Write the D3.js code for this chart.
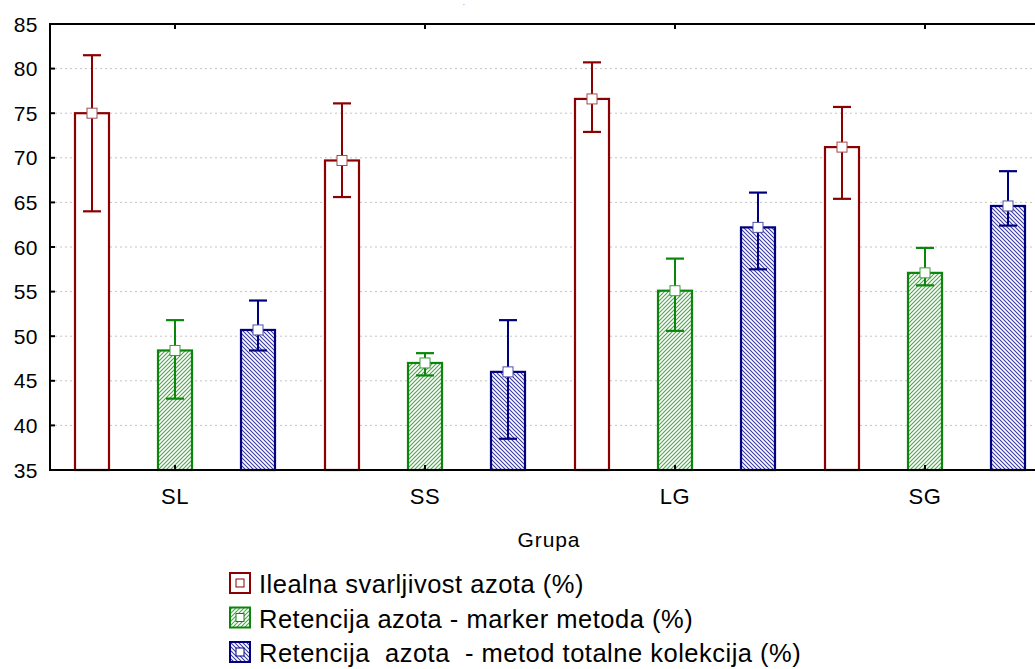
<!DOCTYPE html>
<html>
<head>
<meta charset="utf-8">
<script src="https://cdn.jsdelivr.net/npm/d3@7"></script>
<style>
  html, body { margin: 0; padding: 0; background: #fff; }
  svg { display: block; font-family: "Liberation Sans", Arial, sans-serif; }
</style>
</head>
<body>
<svg id="chart" width="1035" height="669"></svg>
<script>
// ---- data ----
const categories = ["SL", "SS", "LG", "SG"];
const seriesNames = [
  "Ilealna svarljivost azota (%)",
  "Retencija azota - marker metoda (%)",
  "Retencija  azota  - metod totalne kolekcija (%)"
];
const ileal      = [75.0, 69.7, 76.6, 71.2];
const ilealLow   = [64.0, 65.6, 72.9, 65.4];
const ilealHigh  = [81.5, 76.1, 80.7, 75.7];
const markerM    = [48.4, 47.0, 55.1, 57.1];
const markerLow  = [43.0, 45.6, 50.6, 55.7];
const markerHigh = [51.8, 48.1, 58.7, 59.9];
const total      = [50.7, 46.0, 62.2, 64.6];
const totalLow   = [48.4, 38.5, 57.5, 62.4];
const totalHigh  = [54.0, 51.8, 66.1, 68.5];
const yTicks = [35, 40, 45, 50, 55, 60, 65, 70, 75, 80, 85];
const xTitle = "Grupa";

// ---- styles ----
const styles = [
  { stroke: "#8b0000", fill: "#ffffff", mk: "#a04a4a" },
  { stroke: "#0a870a", fill: "url(#hatchGreen)", mk: "#3c9a3c" },
  { stroke: "#00007f", fill: "url(#hatchBlue)", mk: "#5050a8" }
];
const seriesData = [
  { mean: ileal, low: ilealLow, high: ilealHigh },
  { mean: markerM, low: markerLow, high: markerHigh },
  { mean: total, low: totalLow, high: totalHigh }
];

const svg = d3.select("#chart");
const pLeft = 50, pRight = 1050, pTop = 24, pBottom = 470;

const defs = svg.append("defs");
function hatch(id, color, dir) {
  const p = defs.append("pattern").attr("id", id)
    .attr("patternUnits", "userSpaceOnUse").attr("width", 4).attr("height", 4);
  p.append("rect").attr("width", 4).attr("height", 4).attr("fill", "#fff");
  if (dir > 0) {
    p.append("path").attr("d", "M-1,1 l2,-2 M0,4 l4,-4 M3,5 l2,-2")
      .attr("stroke", color).attr("stroke-width", 1.1);
  } else {
    p.append("path").attr("d", "M-1,3 l2,2 M0,0 l4,4 M3,-1 l2,2")
      .attr("stroke", color).attr("stroke-width", 1.1);
  }
}
hatch("hatchGreen", "#4aa64a", 1);
hatch("hatchBlue", "#3a3aa0", -1);

const x0 = d3.scaleBand().domain(categories).range([pLeft, pRight]).paddingInner(0).paddingOuter(0);
const x1 = d3.scalePoint().domain(d3.range(3)).range([42, 208]);
const y = d3.scaleLinear().domain([35, 85]).range([pBottom, pTop]);
const barW = 34, capW = 18, mkS = 10;

// grid
svg.append("g").selectAll("line").data(yTicks.filter(t => t > 35 && t < 85)).join("line")
  .attr("x1", pLeft).attr("x2", 1035)
  .attr("y1", d => y(d)).attr("y2", d => y(d))
  .attr("stroke", "#c4c4c4").attr("stroke-width", 1).attr("stroke-dasharray", "2,3");

// bars, error bars, markers
seriesData.forEach((s, si) => {
  const st = styles[si];
  const g = svg.append("g");
  const cx = i => x0(categories[i]) + x1(si);
  g.selectAll("rect.bar").data(categories).join("rect")
    .attr("x", (d, i) => cx(i) - barW / 2)
    .attr("y", (d, i) => y(s.mean[i]))
    .attr("width", barW)
    .attr("height", (d, i) => y(35) - y(s.mean[i]))
    .attr("fill", st.fill).attr("stroke", st.stroke).attr("stroke-width", 2.2);
  g.selectAll("line.v").data(categories).join("line")
    .attr("x1", (d, i) => cx(i)).attr("x2", (d, i) => cx(i))
    .attr("y1", (d, i) => y(s.low[i])).attr("y2", (d, i) => y(s.high[i]))
    .attr("stroke", st.stroke).attr("stroke-width", 2);
  ["low", "high"].forEach(k => {
    g.selectAll("line.c" + k).data(categories).join("line")
      .attr("x1", (d, i) => cx(i) - capW / 2).attr("x2", (d, i) => cx(i) + capW / 2)
      .attr("y1", (d, i) => y(s[k][i])).attr("y2", (d, i) => y(s[k][i]))
      .attr("stroke", st.stroke).attr("stroke-width", 2.2);
  });
  g.selectAll("rect.mk").data(categories).join("rect")
    .attr("x", (d, i) => cx(i) - mkS / 2)
    .attr("y", (d, i) => y(s.mean[i]) - mkS / 2)
    .attr("width", mkS).attr("height", mkS)
    .attr("fill", "#fff").attr("stroke", st.mk).attr("stroke-width", 1);
});

// axes
const ax = svg.append("g").attr("stroke", "#000").attr("stroke-width", 2);
ax.append("line").attr("x1", pLeft).attr("x2", pRight).attr("y1", pTop).attr("y2", pTop);
ax.append("line").attr("x1", pLeft).attr("x2", pRight).attr("y1", pBottom).attr("y2", pBottom);
ax.append("line").attr("x1", pLeft).attr("x2", pLeft).attr("y1", pTop - 1).attr("y2", pBottom + 1);

ax.selectAll("line.yt").data(yTicks).join("line")
  .attr("x1", pLeft).attr("x2", pLeft + 5)
  .attr("y1", d => y(d)).attr("y2", d => y(d));
ax.selectAll("line.xt").data(categories).join("line")
  .attr("x1", d => x0(d) + x0.bandwidth() / 2).attr("x2", d => x0(d) + x0.bandwidth() / 2)
  .attr("y1", pTop).attr("y2", pTop + 5);
ax.selectAll("line.xb").data(categories).join("line")
  .attr("x1", d => x0(d) + x0.bandwidth() / 2).attr("x2", d => x0(d) + x0.bandwidth() / 2)
  .attr("y1", pBottom).attr("y2", pBottom - 5);

// tick labels
svg.append("g").selectAll("text").data(yTicks).join("text")
  .attr("x", 38).attr("y", d => y(d)).attr("dy", "0.36em")
  .attr("text-anchor", "end").attr("font-size", 21).attr("letter-spacing", 0.5)
  .attr("fill", "#000").text(d => d);
svg.append("g").selectAll("text").data(categories).join("text")
  .attr("x", d => x0(d) + x0.bandwidth() / 2).attr("y", 504)
  .attr("text-anchor", "middle").attr("font-size", 22).attr("letter-spacing", 0.6)
  .attr("fill", "#000").text(d => d);
svg.append("text").attr("x", (pLeft + pRight) / 2 - 1).attr("y", 547)
  .attr("text-anchor", "middle").attr("font-size", 21).attr("letter-spacing", 0.9)
  .attr("fill", "#000").text(xTitle);
svg.append("text").attr("x", 463).attr("y", 6)
  .attr("font-size", 5).attr("fill", "#444").text("-");

// legend
const lg = svg.append("g");
seriesNames.forEach((name, i) => {
  const yy = 573 + i * 34.5;
  const st = styles[i];
  lg.append("rect").attr("x", 230).attr("y", yy).attr("width", 20).attr("height", 20)
    .attr("fill", st.fill).attr("stroke", st.stroke).attr("stroke-width", 2);
  lg.append("rect").attr("x", 236).attr("y", yy + 6).attr("width", 8).attr("height", 8)
    .attr("fill", "#fff").attr("stroke", st.stroke).attr("stroke-width", 1);
  lg.append("text").attr("x", 259).attr("y", yy + 20)
    .attr("font-size", 25.5).attr("letter-spacing", 0.5).attr("fill", "#000")
    .style("white-space", "pre")
    .text(name);
});
</script>
</body>
</html>
